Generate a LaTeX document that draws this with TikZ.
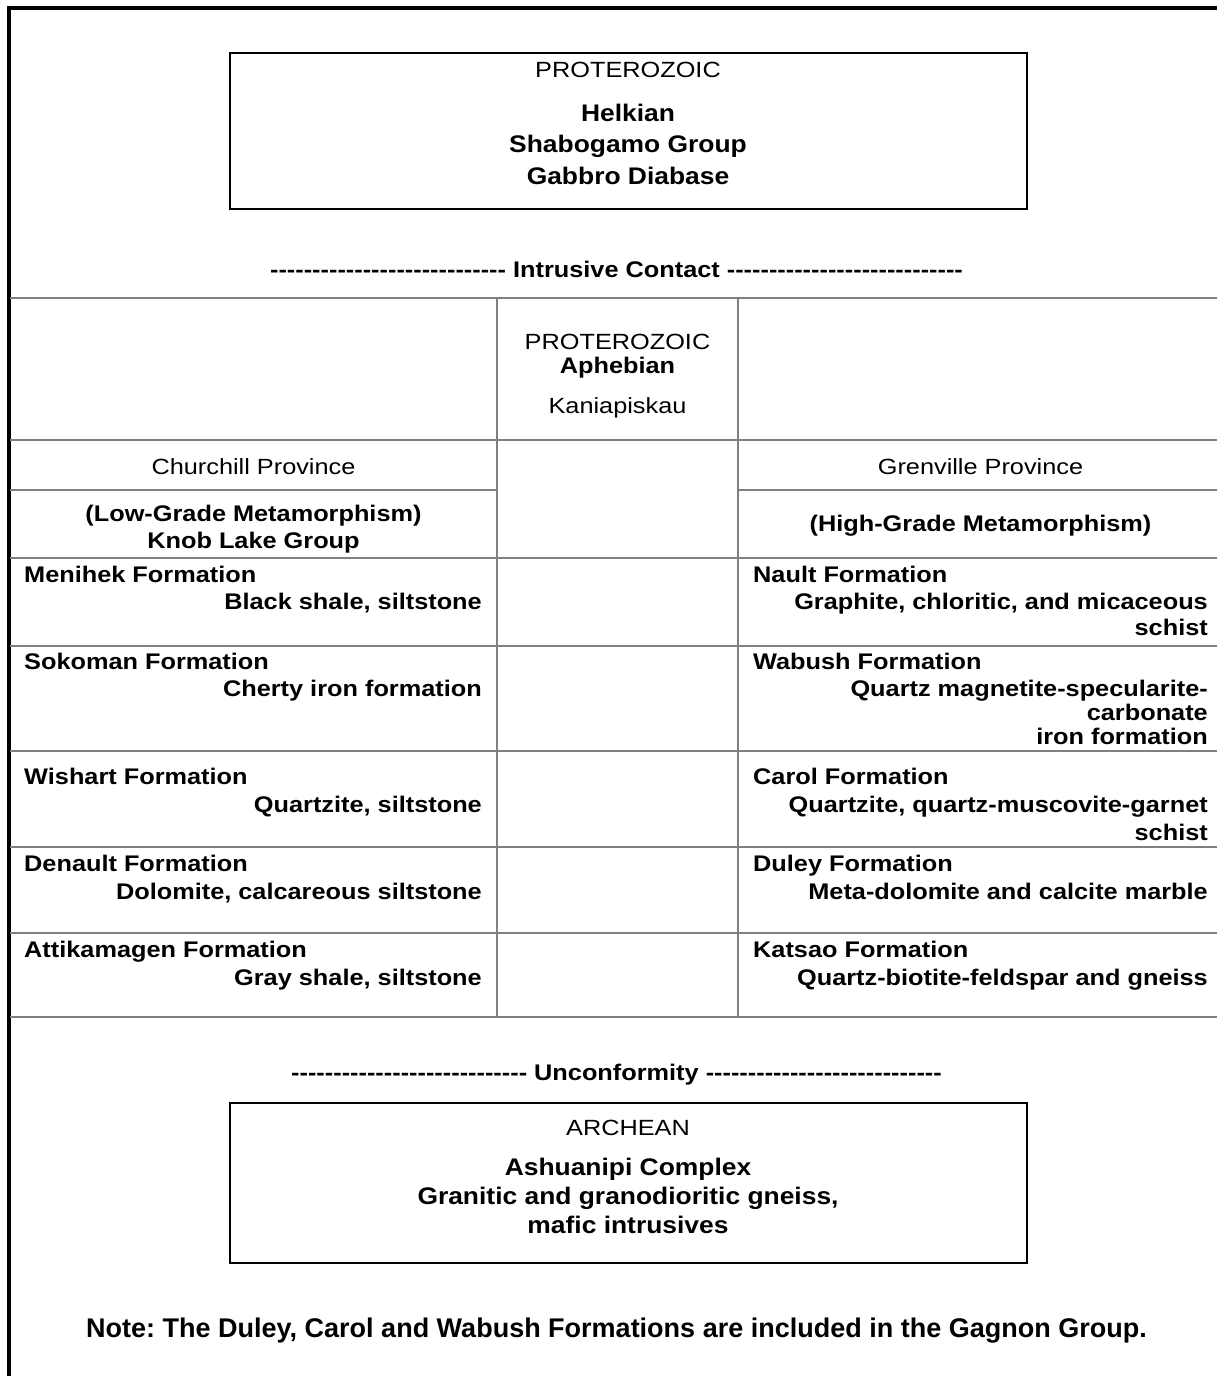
\documentclass[tikz,border=0pt]{standalone}
\usepackage{fontspec}
\setmainfont{Liberation Sans}
\newfontfamily\tf[FakeStretch=1.15]{Liberation Sans}
\newfontfamily\tfb[FakeStretch=1.12]{Liberation Sans}
\newfontfamily\tfx[FakeStretch=1.1]{Liberation Sans}
\definecolor{gridgray}{RGB}{128,128,128}
\tikzset{
  rg/.style={font=\tf\fontsize{22}{26}\selectfont, inner sep=0pt},
  bd/.style={font=\tfb\bfseries\fontsize{22.6}{26}\selectfont, inner sep=0pt},
  bx/.style={font=\tfx\bfseries\fontsize{24}{28}\selectfont, inner sep=0pt},
  nt/.style={font=\bfseries\fontsize{27}{32}\selectfont, inner sep=0pt},
  gridline/.style={draw=gridgray, line width=2pt},
  frameline/.style={draw=black, line width=4pt},
  unitbox/.style={draw=black, line width=2pt},
}
\newcommand{\dashrun}{----------------------------}
\frenchspacing
\begin{document}
\begin{tikzpicture}[x=1pt,y=-1pt]
\useasboundingbox (0,0) rectangle (1217,1376);
\fill[white] (0,0) rectangle (1217,1376);
% outer frame (top and left only)
\draw[frameline] (8.5,1376) -- (8.5,8) -- (1217,8);

% top box
\draw[unitbox] (230,53) rectangle (1027,209);
\node[rg, anchor=base] (tpro) at (628,77) {PROTEROZOIC};
\node[bx, anchor=base] (helk) at (628,121) {Helkian};
\node[bx, anchor=base] (shab) at (628,152) {Shabogamo Group};
\node[bx, anchor=base] (gabb) at (628,184) {Gabbro Diabase};

% intrusive contact
\node[bd, anchor=base] (intr) at (616.5,277) {\dashrun{} Intrusive Contact \dashrun};

% table grid
\draw[gridline] (10,298) -- (1217,298);
\draw[gridline] (10,440) -- (1217,440);
\draw[gridline] (10,490) -- (497,490);
\draw[gridline] (738,490) -- (1217,490);
\foreach \yy in {558,646,751,847,933,1017}
  \draw[gridline] (10,\yy) -- (1217,\yy);
\draw[gridline] (497,298) -- (497,1017);
\draw[gridline] (738,298) -- (738,1017);

% header middle
\node[rg, anchor=base] (mpro) at (617.5,349) {PROTEROZOIC};
\node[bd, anchor=base] (aphe) at (617.5,373) {Aphebian};
\node[rg, anchor=base] (kani) at (617.5,413) {Kaniapiskau};

% provinces
\node[rg, anchor=base] (chur) at (253.5,474) {Churchill Province};
\node[rg, anchor=base] (gren) at (980.5,474) {Grenville Province};
\node[bd, anchor=base] (lowg) at (253.5,521) {(Low-Grade Metamorphism)};
\node[bd, anchor=base] (knob) at (253.5,548) {Knob Lake Group};
\node[bd, anchor=base] (high) at (980.5,531) {(High-Grade Metamorphism)};

% left column formations
\node[bd, anchor=base west] (meni) at (24,582) {Menihek Formation};
\node[bd, anchor=base east] (menid) at (482,609) {Black shale, siltstone};
\node[bd, anchor=base west] (soko) at (24,669) {Sokoman Formation};
\node[bd, anchor=base east] (sokod) at (482,696) {Cherty iron formation};
\node[bd, anchor=base west] (wish) at (24,784) {Wishart Formation};
\node[bd, anchor=base east] (wishd) at (482,812) {Quartzite, siltstone};
\node[bd, anchor=base west] (dena) at (24,871) {Denault Formation};
\node[bd, anchor=base east] (denad) at (482,899) {Dolomite, calcareous siltstone};
\node[bd, anchor=base west] (atti) at (24,957) {Attikamagen Formation};
\node[bd, anchor=base east] (attid) at (482,985) {Gray shale, siltstone};

% right column formations
\node[bd, anchor=base west] (naul) at (753,582) {Nault Formation};
\node[bd, anchor=base east] (nauld1) at (1208,609) {Graphite, chloritic, and micaceous};
\node[bd, anchor=base east] (nauld2) at (1208,635) {schist};
\node[bd, anchor=base west] (wabu) at (753,669) {Wabush Formation};
\node[bd, anchor=base east] (wabud1) at (1208,696) {Quartz magnetite-specularite-};
\node[bd, anchor=base east] (wabud2) at (1208,720) {carbonate};
\node[bd, anchor=base east] (wabud3) at (1208,744) {iron formation};
\node[bd, anchor=base west] (caro) at (753,784) {Carol Formation};
\node[bd, anchor=base east] (carod1) at (1208,812) {Quartzite, quartz-muscovite-garnet};
\node[bd, anchor=base east] (carod2) at (1208,840) {schist};
\node[bd, anchor=base west] (dule) at (753,871) {Duley Formation};
\node[bd, anchor=base east] (duled) at (1208,899) {Meta-dolomite and calcite marble};
\node[bd, anchor=base west] (kats) at (753,957) {Katsao Formation};
\node[bd, anchor=base east] (katsd) at (1208,985) {Quartz-biotite-feldspar and gneiss};

% unconformity
\node[bd, anchor=base] (unco) at (616.5,1080) {\dashrun{} Unconformity \dashrun};

% archean box
\draw[unitbox] (230,1103) rectangle (1027,1263);
\node[rg, anchor=base] (arch) at (628,1135) {ARCHEAN};
\node[bx, anchor=base] (ashu) at (628,1175) {Ashuanipi Complex};
\node[bx, anchor=base] (gran) at (628,1204) {Granitic and granodioritic gneiss,};
\node[bx, anchor=base] (mafi) at (628,1233) {mafic intrusives};

% note
\node[nt, anchor=base] (note) at (616.5,1337) {Note: The Duley, Carol and Wabush Formations are included in the Gagnon Group.};
\end{tikzpicture}
\end{document}
